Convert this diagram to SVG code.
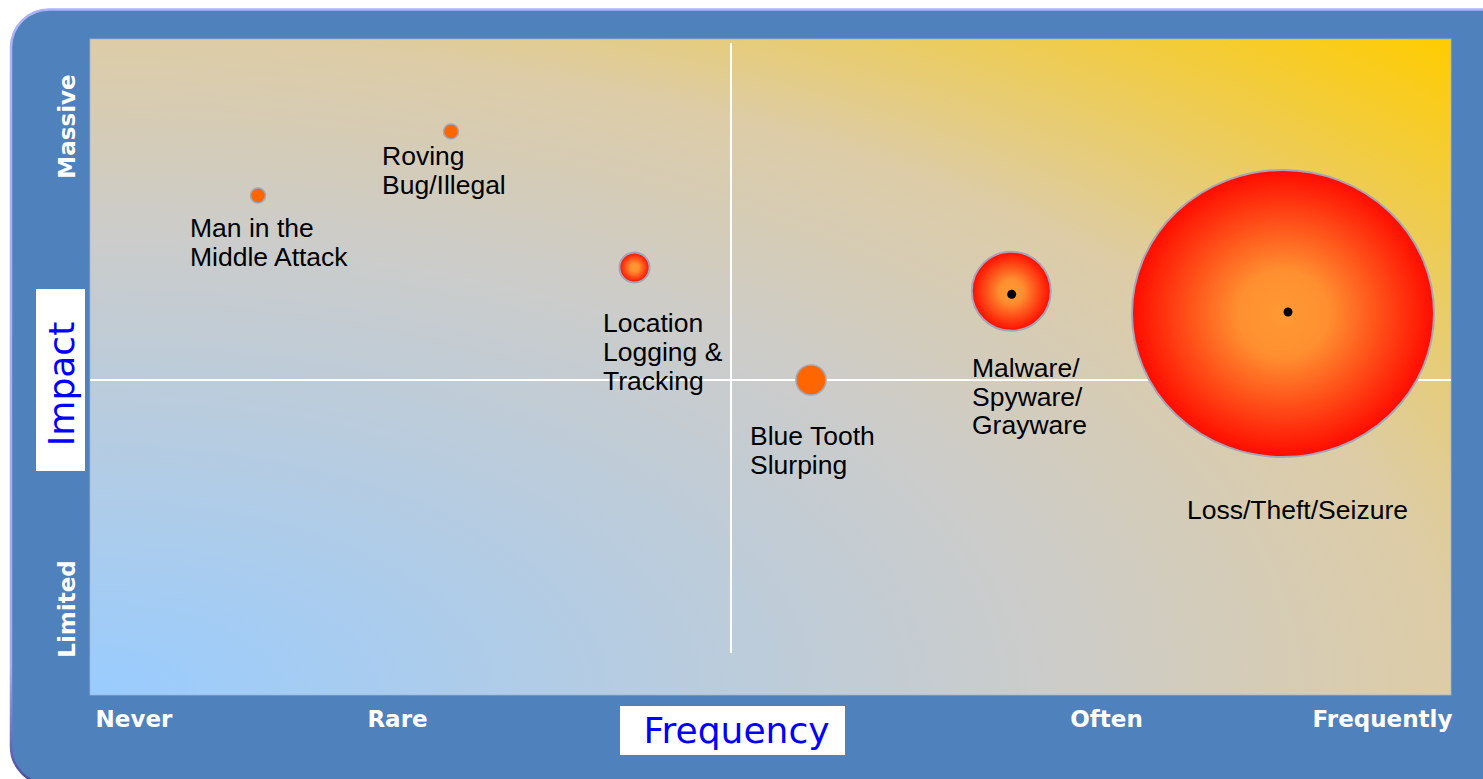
<svg xmlns="http://www.w3.org/2000/svg" width="1483" height="779" viewBox="0 0 1483 779">
<defs>
<radialGradient id="bg" gradientUnits="objectBoundingBox" cx="0" cy="1" r="1.414" fx="0" fy="1">
<stop offset="0" stop-color="#99CCFF"/>
<stop offset="0.5" stop-color="#CCCCCA"/>
<stop offset="0.707" stop-color="#DDCCA6"/>
<stop offset="1" stop-color="#FFCC00"/>
</radialGradient>
<radialGradient id="hot" cx="0.5" cy="0.5" r="0.5">
<stop offset="0" stop-color="#FF9933"/>
<stop offset="0.3" stop-color="#FF8F30"/>
<stop offset="1" stop-color="#FF0C00"/>
</radialGradient>
<linearGradient id="frameStroke" x1="0" y1="0" x2="0" y2="1">
<stop offset="0" stop-color="#AEB2F8"/>
<stop offset="0.85" stop-color="#A4A8EE"/>
<stop offset="1" stop-color="#4A4A9C"/>
</linearGradient>
<style>
.lbl{font-family:"Liberation Sans",Arial,sans-serif;font-size:26.5px;fill:#000}
.ax{font-family:"DejaVu Sans",Verdana,sans-serif;font-weight:bold;font-size:23px;fill:#fff}
.title{font-family:"DejaVu Sans",Verdana,sans-serif;font-size:36px;fill:#0000FF}
.dot{fill:#FF6600;stroke:#A3A6B8;stroke-width:1.5}
.big{fill:url(#hot);stroke:#A3A6B8;stroke-width:2}
.cross{stroke:#FFFFFF;stroke-width:2;fill:none}
</style>
</defs>

<g id="frame">
<rect x="11" y="9.5" width="1520" height="775" rx="38" ry="38" fill="#4F81BD" stroke="url(#frameStroke)" stroke-width="2.5"/>
<rect x="90" y="39" width="1361" height="656" fill="url(#bg)" stroke="#9DB3D6" stroke-width="0.8"/>
</g>

<g id="connectors">
<line class="cross" x1="731" y1="43" x2="731" y2="653"/>
<line class="cross" x1="90" y1="380" x2="1451" y2="380"/>
</g>

<g id="axis-labels">
<text class="ax" x="134" y="727" text-anchor="middle">Never</text>
<text class="ax" x="397.5" y="727" text-anchor="middle">Rare</text>
<text class="ax" x="1106.5" y="727" text-anchor="middle">Often</text>
<text class="ax" x="1382.5" y="727" text-anchor="middle">Frequently</text>
<text class="ax" transform="translate(75,126.5) rotate(-90)" text-anchor="middle">Massive</text>
<text class="ax" transform="translate(75,609) rotate(-90)" text-anchor="middle">Limited</text>
</g>

<g id="impact-title">
<rect x="36" y="289" width="49" height="182" fill="#FFFFFF"/>
<text class="title" transform="translate(74,384) rotate(-90)" text-anchor="middle">Impact</text>
</g>

<g id="frequency-title">
<rect x="620" y="706" width="225" height="49" fill="#FFFFFF"/>
<text class="title" x="736.5" y="743" text-anchor="middle">Frequency</text>
</g>

<g id="node-mitm">
<circle class="dot" cx="258" cy="195.5" r="7.5"/>
<text class="lbl" x="190" y="237">Man in the</text>
<text class="lbl" x="190" y="266">Middle Attack</text>
</g>

<g id="node-roving">
<circle class="dot" cx="451" cy="131.5" r="7.5"/>
<text class="lbl" x="382" y="165">Roving</text>
<text class="lbl" x="382" y="194">Bug/Illegal</text>
</g>

<g id="node-location">
<circle class="big" cx="634.5" cy="267.5" r="15"/>
<text class="lbl" x="603" y="332">Location</text>
<text class="lbl" x="603" y="361">Logging &amp;</text>
<text class="lbl" x="603" y="390">Tracking</text>
</g>

<g id="node-bluetooth">
<circle class="dot" cx="811" cy="380" r="15"/>
<text class="lbl" x="750" y="445">Blue Tooth</text>
<text class="lbl" x="750" y="474">Slurping</text>
</g>

<g id="node-malware">
<circle class="big" cx="1011.3" cy="291.3" r="39.5"/>
<circle cx="1011.7" cy="294.3" r="4.5" fill="#000"/>
<text class="lbl" x="972" y="377">Malware/</text>
<text class="lbl" x="972" y="406">Spyware/</text>
<text class="lbl" x="972" y="434">Grayware</text>
</g>

<g id="node-loss">
<ellipse class="big" cx="1283" cy="313.5" rx="151" ry="143.5"/>
<circle cx="1288" cy="312" r="4.5" fill="#000"/>
<text class="lbl" x="1187" y="519">Loss/Theft/Seizure</text>
</g>
</svg>
